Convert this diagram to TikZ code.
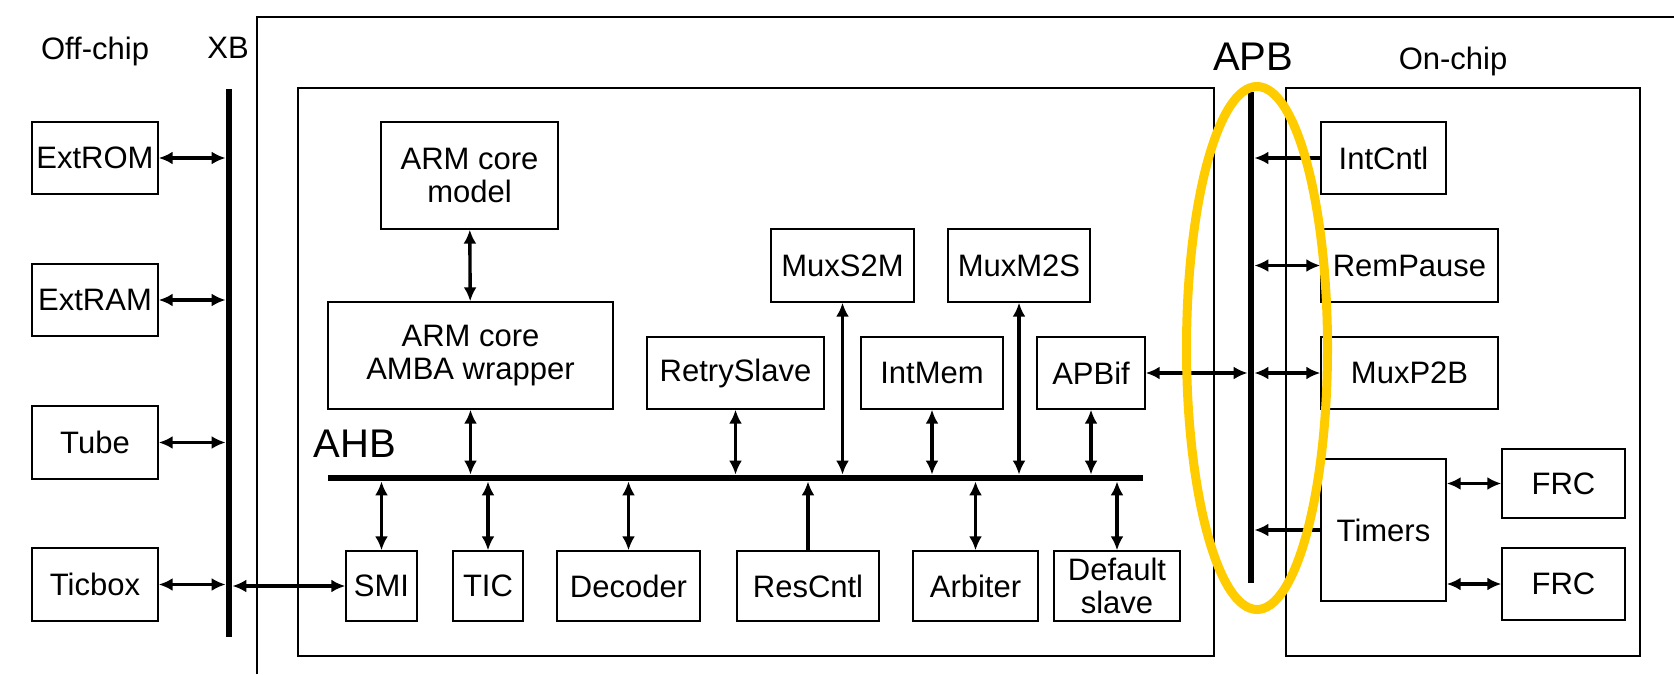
\documentclass[tikz,border=0pt]{standalone}
\usepackage{fontspec}
\setmainfont{Liberation Sans}
\usepackage{tikz}
\usetikzlibrary{arrows.meta}

\definecolor{ringyellow}{RGB}{255,204,0}

\begin{document}
\begin{tikzpicture}[x=0.5pt,y=-0.5pt,
        blk/.style={draw,line width=0.7pt,inner sep=0pt,align=center,
            font=\fontsize{15.5pt}{16.5pt}\selectfont},
        sz/.style 2 args={minimum width=#1*0.5pt,minimum height=#2*0.5pt},
        lbl/.style={anchor=base,inner sep=0pt,font=\fontsize{15.5pt}{18pt}\selectfont},
        buslbl/.style={anchor=base,inner sep=0pt,font=\fontsize{20pt}{24pt}\selectfont},
        chipframe/.style={draw,line width=0.7pt},
        bus/.style={line width=3.3pt},
        conn/.style={line width=1.7pt,{Latex[length=7pt,width=6.5pt]}-{Latex[length=7pt,width=6.5pt]}},
        tobus/.style={line width=1.7pt,-{Latex[length=7pt,width=6.5pt]}}]

        \useasboundingbox (0,0) rectangle (1674,674);

        % frames
        \draw[chipframe] (257,674) -- (257,17) -- (1674,17);
        \draw[chipframe] (298,88) rectangle (1214,656);
        \draw[chipframe] (1286,88) rectangle (1640,656);

        \node[lbl] (offchip) at (95,60) {Off-chip};
        \node[lbl] (xblbl)   at (228,59) {XB};
        \node[buslbl] (apblbl) at (1253,71) {APB};
        \node[lbl] (onchip)  at (1453,69) {On-chip};
        \node[buslbl] (ahblbl) at (355,457) {AHB};

        % buses
        \coordinate (xbT)  at (229,89);
        \coordinate (xbB)  at (229,637);
        \coordinate (ahbL) at (328,478);
        \coordinate (ahbR) at (1143,478);
        \coordinate (apbT) at (1251,92);
        \coordinate (apbB) at (1251,583);
        \draw[bus] (xbT) -- (xbB);
        \draw[bus] (ahbL) -- (ahbR);
        \draw[bus] (apbT) -- (apbB);

        \node[blk,sz={126}{72}] (ExtROM) at (95,158) {ExtROM};
        \node[blk,sz={126}{72}] (ExtRAM) at (95,300) {ExtRAM};
        \node[blk,sz={126}{73}] (Tube)   at (95,442.5) {Tube};
        \node[blk,sz={126}{73}] (Ticbox) at (95,584.5) {Ticbox};

        \node[blk,sz={177}{107}] (ARMmodel) at (469.5,175.5) {ARM core\\model};
        \node[blk,sz={285}{107}] (ARMwrap)  at (470.5,355.5) {ARM core\\AMBA wrapper};
        \node[blk,sz={143}{73}] (MuxS2M)     at (842.5,265.5) {MuxS2M};
        \node[blk,sz={142}{73}] (MuxM2S)     at (1019,265.5) {MuxM2S};
        \node[blk,sz={177}{72}] (RetrySlave) at (735.5,373) {RetrySlave};
        \node[blk,sz={142}{72}] (IntMem)     at (932,373) {IntMem};
        \node[blk,sz={108}{72}] (APBif)      at (1091,373) {APBif};

        \node[blk,sz={71}{70}]  (SMI)      at (381.5,586) {SMI};
        \node[blk,sz={70}{70}]  (TIC)      at (488,586) {TIC};
        \node[blk,sz={143}{70}] (Decoder)  at (628.5,586) {Decoder};
        \node[blk,sz={142}{70}] (ResCntl)  at (808,586) {ResCntl};
        \node[blk,sz={125}{70}] (Arbiter)  at (975.5,586) {Arbiter};
        \node[blk,sz={126}{70}] (DefSlave) at (1117,586) {Default\\slave};

        \node[blk,sz={125}{72}]  (IntCntl)  at (1383.5,158) {IntCntl};
        \node[blk,sz={177}{73}]  (RemPause) at (1409.5,265.5) {RemPause};
        \node[blk,sz={177}{72}]  (MuxP2B)   at (1409.5,373) {MuxP2B};
        \node[blk,sz={125}{142}] (Timers)   at (1383.5,530) {Timers};
        \node[blk,sz={123}{69}]  (FRC1)     at (1563.5,483.5) {FRC};
        \node[blk,sz={123}{72}]  (FRC2)     at (1563.5,584) {FRC};

        \path[conn]
                  (ARMmodel) edge (ARMwrap)
                  (Timers.east |- FRC1) edge (FRC1)
                  (Timers.east |- FRC2) edge (FRC2);

        \path[conn, shorten >=1.7pt]
                  (ExtROM) edge (ExtROM -| xbT)
                  (ExtRAM) edge (ExtRAM -| xbT)
                  (Tube)   edge (Tube -| xbT)
                  (Ticbox) edge (Ticbox -| xbT)
                  (SMI)    edge (SMI -| xbT)

                  (ARMwrap)    edge (ARMwrap |- ahbL)
                  (MuxS2M)     edge (MuxS2M |- ahbL)
                  (MuxM2S)     edge (MuxM2S |- ahbL)
                  (RetrySlave) edge (RetrySlave |- ahbL)
                  (IntMem)     edge (IntMem |- ahbL)
                  (APBif)      edge (APBif |- ahbL)
                  (SMI)        edge (SMI |- ahbL)
                  (TIC)        edge (TIC |- ahbL)
                  (Decoder)    edge (Decoder |- ahbL)
                  (Arbiter)    edge (Arbiter |- ahbL)
                  (DefSlave)   edge (DefSlave |- ahbL)

                  (APBif)    edge (APBif -| apbT)
                  (RemPause) edge (RemPause -| apbT)
                  (MuxP2B)   edge (MuxP2B -| apbT);

        \path[tobus, shorten >=1.7pt]
                  (ResCntl) edge (ResCntl |- ahbL)
                  (IntCntl) edge (IntCntl -| apbT)
                  (Timers)  edge (Timers -| apbT);

        \draw[ringyellow,line width=4.5pt] (1257,348) ellipse [x radius=35.25pt, y radius=130.75pt];
\end{tikzpicture}
\end{document}
